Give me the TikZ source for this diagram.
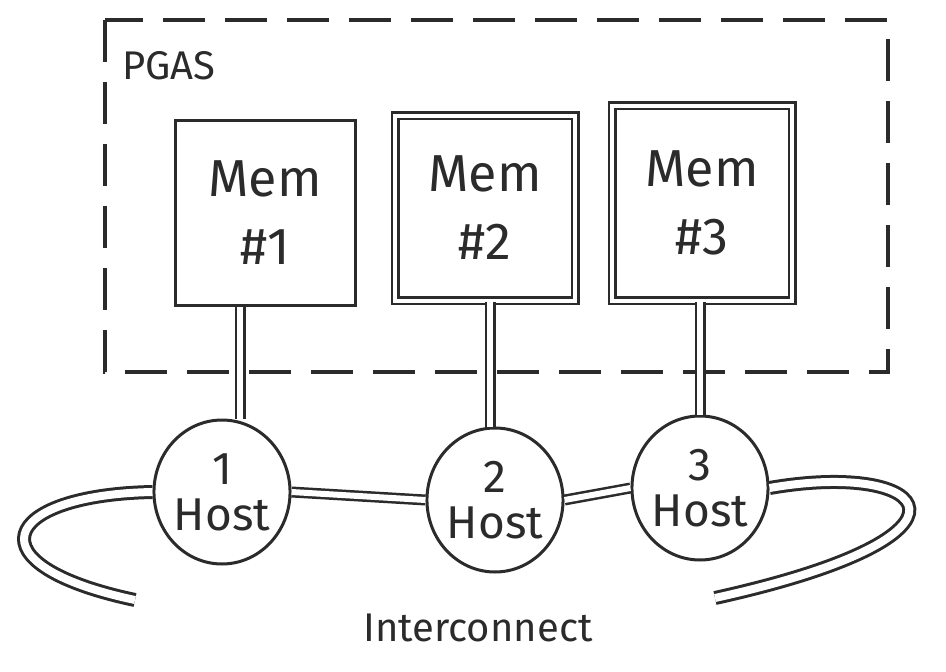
\documentclass[tikz,border=0pt]{standalone}
\usepackage{fontspec}
\setmainfont{Fira Sans}
\usetikzlibrary{shapes.geometric}
\definecolor{ink}{HTML}{2B2B2B}
\tikzset{
  x=1pt, y=-1pt,
  memory/.style={draw=ink, line width=3pt, fill=white, minimum width=180pt, minimum height=185pt, inner sep=0pt, align=center, font=\fontsize{52}{68}\selectfont, text=ink},
  dblmem/.style={memory, double=white, double distance=4pt, line width=2.5pt},
  hostnode/.style={ellipse, draw=ink, line width=3pt, fill=white, minimum width=134pt, minimum height=144pt, inner sep=0pt, align=center, font=\fontsize{46}{46}\selectfont, text=ink},
  link/.style={draw=ink, line width=2.5pt, double=white, double distance=6pt},
  loop/.style={draw=ink, line width=3pt, double=white, double distance=8pt},
  pgasbox/.style={draw=ink, line width=4pt, dash pattern=on 42pt off 20pt},
  lbl/.style={font=\fontsize{40}{44}\selectfont, text=ink, inner sep=0pt}
}
\begin{document}
\begin{tikzpicture}
\useasboundingbox (0,0) rectangle (946,672);
\fill[white] (0,0) rectangle (946,672);
% PGAS dashed region
\draw[pgasbox] (105,20) rectangle (888,372);
\node[lbl, anchor=west] (pgas) at (122,66) {PGAS};
% memories
\node[memory] (m1) at (265,213) {Mem\\\#1};
\node[dblmem] (m2) at (485,208) {Mem\\\#2};
\node[dblmem, minimum height=195pt] (m3) at (702,203) {Mem\\\#3};
% hosts
\node[hostnode] (h1) at (222,492) {1\\Host};
\node[hostnode] (h2) at (495,500) {2\\Host};
\node[hostnode] (h3) at (700,488) {3\\Host};
% memory-host links
\draw[link] (m1.south -| 240,0) -- (h1.north -| 240,0);
\draw[link] (m2.south -| 490,0) -- (h2.north -| 490,0);
\draw[link] (m3.south -| 700,0) -- (h3.north -| 700,0);
% interconnect
\coordinate (lend) at (135,600);
\coordinate (rend) at (715,598);
\draw[link] (h1.east) -- (h2.west);
\draw[link] (h2.east) -- (h3.west);
\draw[loop] (h1.west) .. controls (0,495) and (-30,565) .. (lend);
\draw[loop] (h3.east) .. controls (930,460) and (1000,535) .. (rend);
\node[lbl] (ic) at (478,628) {Interconnect};
\end{tikzpicture}
\end{document}
